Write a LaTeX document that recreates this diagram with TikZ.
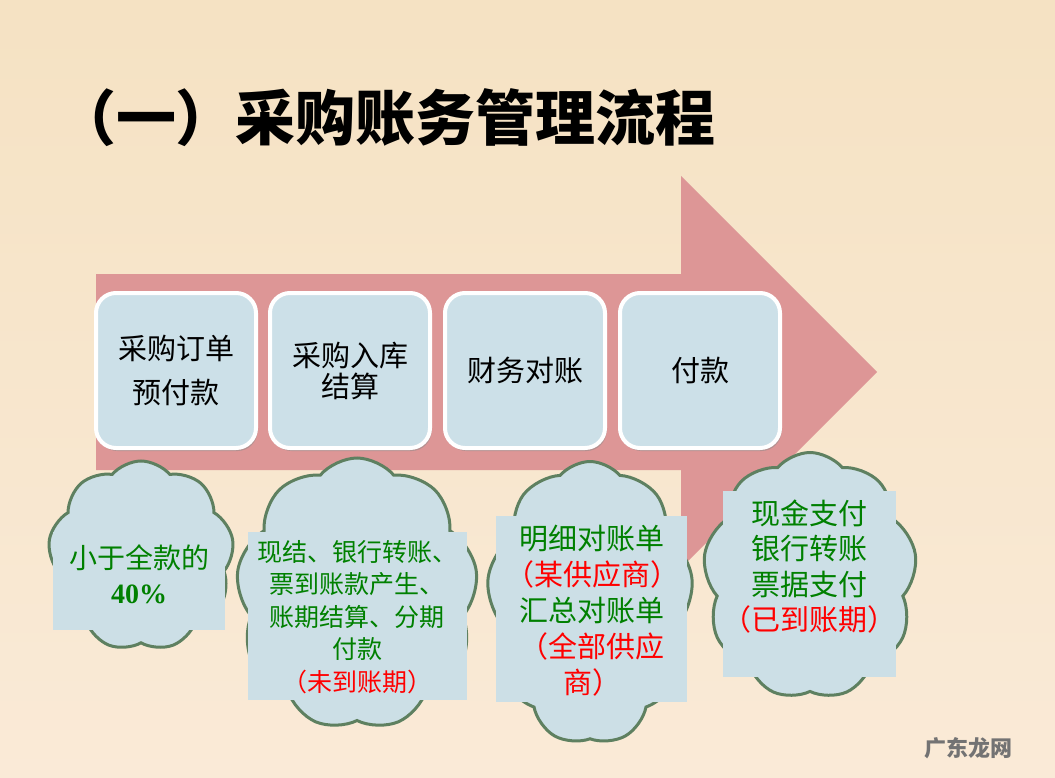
\documentclass[tikz,border=0pt]{standalone}
\usepackage{fontspec}
\setmainfont{Noto Sans CJK SC}
\newfontfamily\serifb{Liberation Serif}
\usetikzlibrary{shapes.symbols,shadows}
\definecolor{bgtop}{RGB}{245,226,195}
\definecolor{bgbot}{RGB}{250,234,215}
\definecolor{arrowc}{RGB}{221,150,150}
\definecolor{boxc}{RGB}{204,224,232}
\definecolor{cloudc}{RGB}{204,223,230}
\definecolor{cloudline}{RGB}{94,128,96}
\definecolor{tgreen}{RGB}{0,128,0}
\definecolor{tred}{RGB}{255,0,0}
\tikzset{
  stepbox/.style={draw=white, line width=4pt, fill=boxc, rounded corners=20pt,
    minimum width=160pt, minimum height=155pt, align=center, text=black,
    drop shadow={shadow xshift=1.5pt, shadow yshift=-3pt, fill=black!45, opacity=.5}},
  cloudbox/.style={cloud, draw=cloudline, line width=3pt, fill=cloudc,
    cloud puffs=9, cloud puff arc=100, cloud ignores aspect, inner sep=0pt},
  rectbox/.style={fill=cloudc, inner sep=0pt},
  ctext/.style={align=center, text=tgreen},
}
\begin{document}
\begin{tikzpicture}[x=1pt,y=-1pt]
\shade[top color=bgtop,bottom color=bgbot] (0,0) rectangle (1055,778);
\useasboundingbox (0,0) rectangle (1055,778);
% title
\node[font=\fontsize{60}{72}\selectfont\bfseries, text=black] (title) at (386,118) {（一）采购账务管理流程};
% big arrow
\fill[arrowc] (96,274) -- (681,274) -- (681,176) -- (877,372) -- (681,568) -- (681,470) -- (96,470) -- cycle;
% step boxes
\node[stepbox, font=\fontsize{29}{44}\selectfont] (b1) at (176,370.5) {采购订单\\预付款};
\node[stepbox, font=\fontsize{29}{31}\selectfont] (b2) at (350,370.5) {采购入库\\结算};
\node[stepbox, font=\fontsize{29}{36}\selectfont] (b3) at (525,370.5) {财务对账};
\node[stepbox, font=\fontsize{29}{36}\selectfont] (b4) at (700,370.5) {付款};
% clouds
\node[cloudbox, minimum width=186pt, minimum height=190pt] (c1) at (141,556) {};
\node[cloudbox, minimum width=242pt, minimum height=272pt] (c2) at (357,594) {};
\node[cloudbox, minimum width=207pt, minimum height=283pt] (c3) at (590,603) {};
\node[cloudbox, minimum width=214pt, minimum height=247pt] (c4) at (810,576) {};
% rectangles
\node[rectbox, minimum width=172pt, minimum height=98pt] (r1) at (139,581) {};
\node[rectbox, minimum width=219pt, minimum height=168pt] (r2) at (357.5,616) {};
\node[rectbox, minimum width=191pt, minimum height=186pt] (r3) at (591.5,609) {};
\node[rectbox, minimum width=173pt, minimum height=186pt] (r4) at (809.5,584) {};
% texts
\node[ctext, font=\fontsize{28}{35}\selectfont] (t1) at (139,574.5) {小于全款的\\{\serifb\bfseries 40\%}};
\node[ctext, font=\fontsize{25}{32.5}\selectfont] (t2) at (357,617) {现结、银行转账、\\票到账款产生、\\账期结算、分期\\付款\\\textcolor{tred}{（未到账期）}};
\node[ctext, font=\fontsize{29}{36}\selectfont] (t3) at (592,611) {明细对账单\\\textcolor{tred}{（某供应商）}\\汇总对账单\\\textcolor{tred}{（全部供应}\\\textcolor{tred}{商）}};
\node[ctext, font=\fontsize{29}{35.5}\selectfont] (t4) at (809,566.5) {现金支付\\银行转账\\票据支付\\\textcolor{tred}{（已到账期）}};
% watermark
\node[font=\fontsize{22}{26}\selectfont\bfseries, text=black!55] (wm) at (968,748) {广东龙网};
\end{tikzpicture}
\end{document}
